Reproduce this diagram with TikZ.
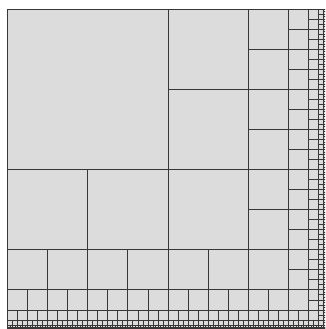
\documentclass[tikz,border=0pt]{standalone}
\definecolor{tilefill}{RGB}{220,220,220}
\definecolor{tileline}{RGB}{55,55,55}

\begin{document}
\begin{tikzpicture}[x=1pt,y=-1pt,
      tile/.style={draw=tileline,line width=0.8pt}]
  \useasboundingbox (0,0) rectangle (325,329);
  \clip (0,0) rectangle (325,329);
  \begin{scope}[shift={(7.5,9)}]
    \fill[tilefill] (0,0) rectangle (321,321);
    \draw[tile] (0,0) rectangle (160.5,160.5);
    % bands of halving width round the big square
    \foreach \k in {1,...,8} {
      \pgfmathsetmacro\w{160.5/2^\k}
      \pgfmathsetmacro\inner{160.5*(2-2^(1-\k))}
      \pgfmathsetmacro\outer{\inner+\w}
      \pgfmathtruncatemacro\ncol{2^(\k+1)-1}
      \pgfmathtruncatemacro\nrow{2^(\k+1)-2}
      \draw[tile] (\inner,0) rectangle (\outer,\outer)
        foreach \j in {1,...,\ncol} {(\inner,\j*\w) -- (\outer,\j*\w)};
      \draw[tile] (0,\inner) rectangle (\inner,\outer)
        foreach \j in {1,...,\nrow} {(\j*\w,\inner) -- (\j*\w,\outer)};
    }
  \end{scope}
\end{tikzpicture}
\end{document}
